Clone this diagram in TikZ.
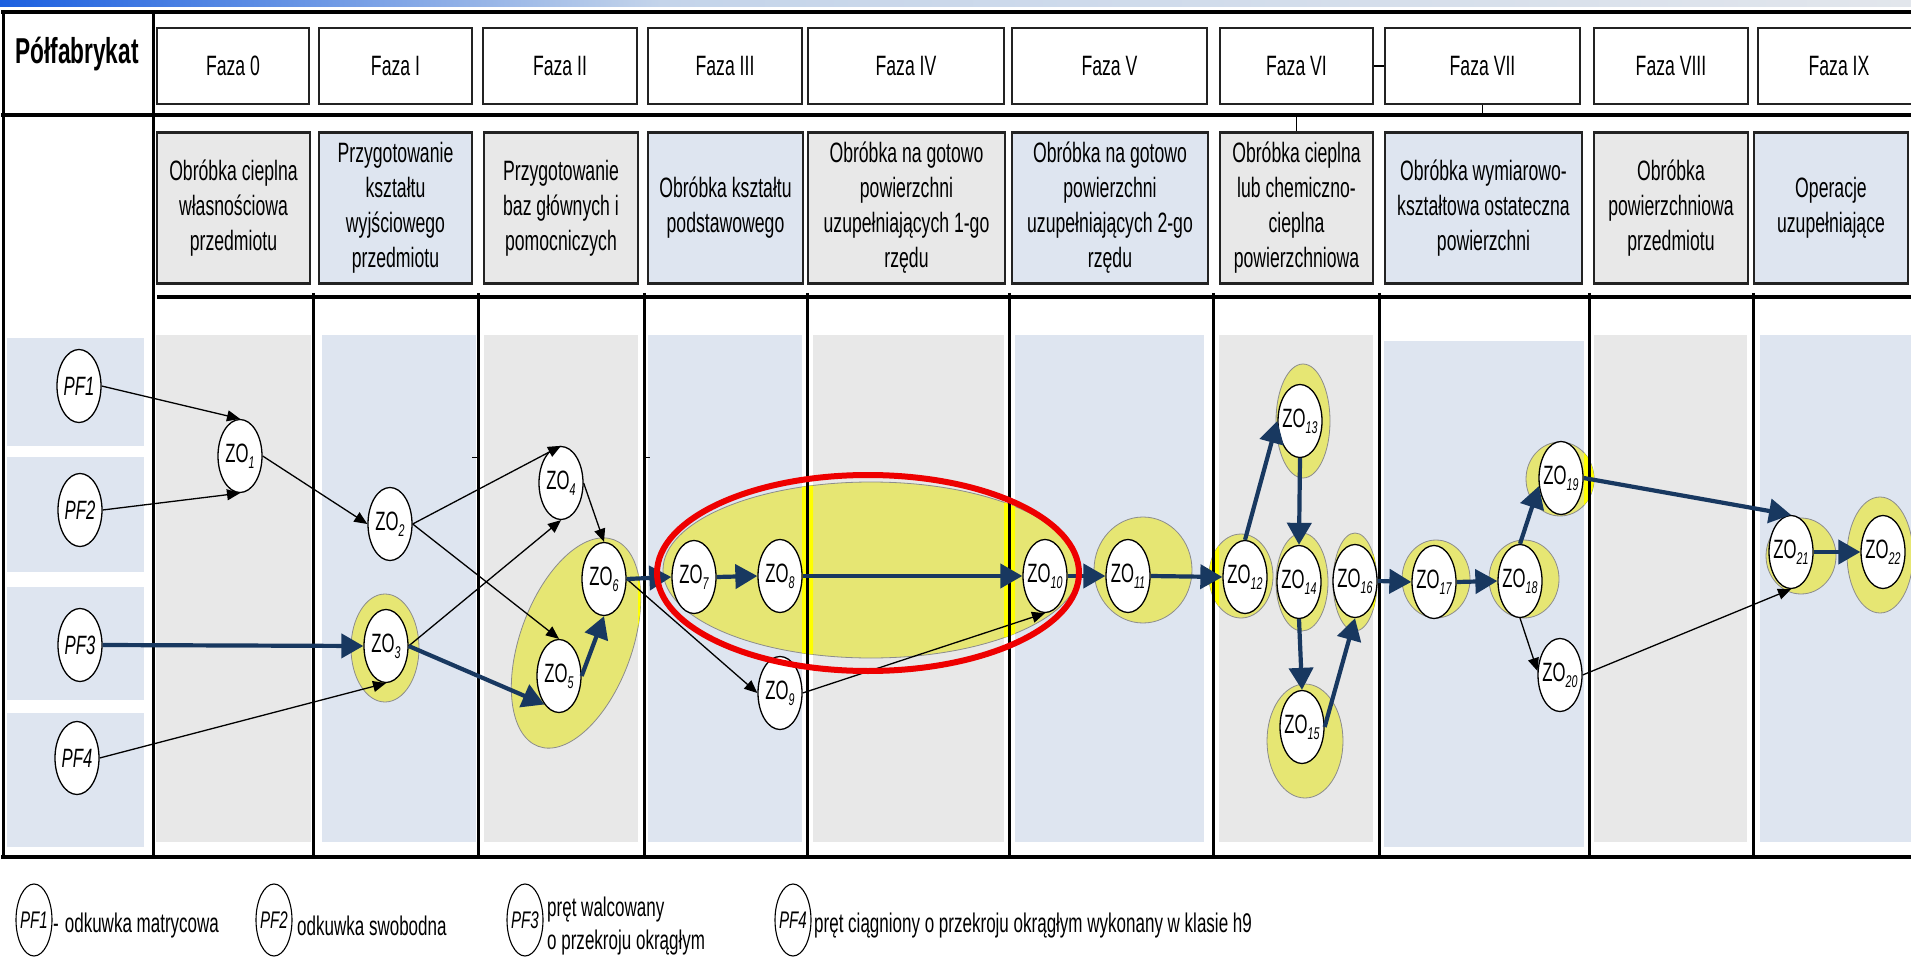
\documentclass[tikz,border=0pt]{standalone}
\usepackage{fontspec}
\newfontfamily\nf{Liberation Sans}[FakeStretch=0.63]
\usetikzlibrary{shapes.geometric,arrows.meta}
\definecolor{navy}{RGB}{24,56,96}
\definecolor{colgray}{RGB}{232,232,232}
\definecolor{colblue}{RGB}{222,229,240}
\definecolor{hl}{RGB}{230,230,115}
\definecolor{hlbright}{RGB}{255,255,0}
\definecolor{boxline}{RGB}{35,35,35}
\definecolor{ringred}{RGB}{238,0,0}
\definecolor{barblue}{RGB}{28,96,224}
\definecolor{barlight}{RGB}{196,212,234}
\definecolor{barpale}{RGB}{226,230,236}
\newcommand{\zon}[1]{\makebox[0pt]{ZO\raisebox{-6pt}{\fontsize{17}{17}\selectfont\itshape #1}}}
\newcommand{\pfn}[1]{\makebox[0pt]{\itshape PF#1}}
\begin{document}
\begin{tikzpicture}[x=1pt,y=1pt,
  hdr/.style={draw=boxline,line width=2.2pt,fill=white,minimum height=76pt,inner sep=0pt,
    font=\nf\fontsize{28}{34}\selectfont},
  desc/.style={draw=boxline,line width=2.2pt,minimum height=151pt,inner sep=0pt,align=center,
    font=\nf\fontsize{28}{35}\selectfont},
  zo/.style={ellipse,draw=black,line width=1.3pt,fill=white,minimum width=44pt,
    minimum height=73pt,inner sep=0pt,font=\nf\fontsize{26.5}{28}\selectfont},
  lg/.style={ellipse,draw=black,line width=1.1pt,fill=white,minimum width=36pt,
    minimum height=72pt,inner sep=0pt,font=\nf\fontsize{24}{26}\selectfont},
  lgtext/.style={anchor=west,inner sep=0pt,align=left,font=\nf\fontsize{27}{33}\selectfont},
  flow/.style={draw=black,line width=1.3pt,-{Triangle[length=13pt,width=11pt]}},
  mainflow/.style={draw=navy,line width=4.2pt,-{Triangle[length=22pt,width=24pt]}},
  hlzone/.style={fill=hl,draw=black!45,line width=0.8pt},
  hrule/.style={draw=black,line width=4.5pt},
  vrule/.style={draw=black,line width=3pt},
  conn/.style={draw=black,line width=1.2pt}
]
\useasboundingbox (0,0) rectangle (1911,-957);
\clip (0,0) rectangle (1911,-957);
\fill[white] (0,0) rectangle (1911,-957);

% title bar
\shade[left color=barblue,right color=barlight] (0,0) rectangle (660,-7);
\shade[left color=barlight,right color=barpale] (660,0) rectangle (1911,-7);

% semi-finished product column
\fill[colblue] (7,-338) rectangle (144,-446);
\fill[colblue] (7,-457) rectangle (144,-572);
\fill[colblue] (7,-587) rectangle (144,-700);
\fill[colblue] (7,-713) rectangle (144,-847);

% phase columns
\fill[colgray] (156,-335) rectangle (311,-842);
\fill[colblue] (322,-335) rectangle (476,-842);
\fill[colgray] (484,-335) rectangle (638,-842);
\fill[colblue] (648,-335) rectangle (802,-842);
\fill[colgray] (813,-335) rectangle (1004,-842);
\fill[colblue] (1015,-335) rectangle (1204,-842);
\fill[colgray] (1219,-335) rectangle (1373,-842);
\fill[colblue] (1384,-341) rectangle (1584,-847);
\fill[colgray] (1594,-335) rectangle (1747,-842);
\fill[colblue] (1760,-335) rectangle (1911,-842);

% highlighted operation groups
\path[hlzone] (385,-648) ellipse [x radius=34,y radius=54];
\path[hlzone,rotate around={70:(576,-643)}] (576,-643) ellipse [x radius=110,y radius=56];
\path[hlzone] (871,-570) ellipse [x radius=208,y radius=88];
\path[hlzone] (1143,-570) ellipse [x radius=49,y radius=53];
\path[hlzone] (1241,-576) ellipse [x radius=32,y radius=42];
\path[hlzone] (1303,-421) ellipse [x radius=27,y radius=57];
\path[hlzone] (1302,-582) ellipse [x radius=26,y radius=49];
\path[hlzone] (1305,-741) ellipse [x radius=38,y radius=57];
\path[hlzone] (1355,-582) ellipse [x radius=22,y radius=49];
\path[hlzone] (1436,-579) ellipse [x radius=34,y radius=39];
\path[hlzone] (1524,-579) ellipse [x radius=35,y radius=39];
\path[hlzone] (1560,-479) ellipse [x radius=34,y radius=37];
\path[hlzone] (1801,-556) ellipse [x radius=35,y radius=38];
\path[hlzone] (1880,-555) ellipse [x radius=33,y radius=58];

% groups seen through the gaps between columns
\begin{scope}
\clip (311,-297) rectangle (322,-857) (476,-297) rectangle (484,-857)
      (638,-297) rectangle (648,-857) (802,-297) rectangle (813,-857)
      (1004,-297) rectangle (1015,-857) (1204,-297) rectangle (1219,-857)
      (1373,-297) rectangle (1384,-857) (1584,-297) rectangle (1594,-857)
      (1747,-297) rectangle (1760,-857);
\fill[hlbright,rotate around={70:(576,-643)}] (576,-643) ellipse [x radius=110,y radius=56];
\fill[hlbright] (871,-570) ellipse [x radius=208,y radius=88];
\fill[hlbright] (1241,-576) ellipse [x radius=32,y radius=42];
\fill[hlbright] (1355,-582) ellipse [x radius=22,y radius=49];
\fill[hlbright] (1560,-479) ellipse [x radius=34,y radius=37];
\end{scope}

% table rules
\draw[hrule] (1,-12) -- (1911,-12);
\draw[hrule] (1,-115) -- (1911,-115);
\draw[hrule] (157,-297) -- (1911,-297);
\draw[hrule] (1,-857) -- (1911,-857);
\draw[vrule] (3,-12) -- (3,-857);
\draw[vrule] (153,-12) -- (153,-857);
\foreach \x in {313,478,644,807,1009,1213,1379,1589,1753}
  \draw[vrule] (\x,-293) -- (\x,-857);
\draw[line width=1pt] (472,-457) -- (477,-457);
\draw[line width=1pt] (645,-457) -- (650,-457);

% header
\node[font=\nf\bfseries\fontsize{36}{40}\selectfont,inner sep=0pt] (pfh) at (77,-54) {Półfabrykat};
\node[hdr,minimum width=152pt] (h0) at (233,-66) {Faza 0};
\node[hdr,minimum width=153pt] (h1) at (395.5,-66) {Faza I};
\node[hdr,minimum width=154pt] (h2) at (560,-66) {Faza II};
\node[hdr,minimum width=154pt] (h3) at (725,-66) {Faza III};
\node[hdr,minimum width=196pt] (h4) at (906,-66) {Faza IV};
\node[hdr,minimum width=195pt] (h5) at (1109.5,-66) {Faza V};
\node[hdr,minimum width=153pt] (h6) at (1296.5,-66) {Faza VI};
\node[hdr,minimum width=195pt] (h7) at (1482.5,-66) {Faza VII};
\node[hdr,minimum width=154pt] (h8) at (1671,-66) {Faza VIII};
\node[hdr,minimum width=162pt] (h9) at (1839,-66) {Faza IX};

\node[desc,fill=colgray,minimum width=153pt] (d0) at (233.5,-208) {Obróbka cieplna\\własnościowa\\przedmiotu};
\node[desc,fill=colblue,minimum width=153pt] (d1) at (395.5,-208) {Przygotowanie\\kształtu\\wyjściowego\\przedmiotu};
\node[desc,fill=colgray,minimum width=154pt] (d2) at (561,-208) {Przygotowanie\\baz głównych i\\pomocniczych};
\node[desc,fill=colblue,minimum width=155pt] (d3) at (725.5,-208) {Obróbka kształtu\\podstawowego};
\node[desc,fill=colgray,minimum width=197pt] (d4) at (906.5,-208) {Obróbka na gotowo\\powierzchni\\uzupełniających 1-go\\rzędu};
\node[desc,fill=colblue,minimum width=196pt] (d5) at (1110,-208) {Obróbka na gotowo\\powierzchni\\uzupełniających 2-go\\rzędu};
\node[desc,fill=colgray,minimum width=153pt] (d6) at (1296.5,-208) {Obróbka cieplna\\lub chemiczno-\\cieplna\\powierzchniowa};
\node[desc,fill=colblue,minimum width=197pt] (d7) at (1483.5,-208) {Obróbka wymiarowo-\\kształtowa ostateczna\\powierzchni};
\node[desc,fill=colgray,minimum width=154pt] (d8) at (1671,-208) {Obróbka\\powierzchniowa\\przedmiotu};
\node[desc,fill=colblue,minimum width=154pt] (d9) at (1831,-208) {Operacje\\uzupełniające};

\coordinate (t6) at (1296.5,-115);
\coordinate (t7) at (1482.5,-115);
\draw[conn] (h6.east) -- (h7.west);
\draw[conn] (h7.south) -- (t7);
\draw[conn] (t6) -- (d6.north);

% operations
\node[zo] (PF1) at (79,-386) {\pfn{1}};
\node[zo] (PF2) at (80,-510) {\pfn{2}};
\node[zo] (PF3) at (80,-645) {\pfn{3}};
\node[zo] (PF4) at (77,-758) {\pfn{4}};
\node[zo] (ZO1) at (240,-456) {\zon{1}};
\node[zo] (ZO2) at (390,-524) {\zon{2}};
\node[zo] (ZO3) at (386,-646) {\zon{3}};
\node[zo] (ZO4) at (561,-483) {\zon{4}};
\node[zo] (ZO5) at (559,-676) {\zon{5}};
\node[zo] (ZO6) at (604,-579) {\zon{6}};
\node[zo] (ZO7) at (694,-577) {\zon{7}};
\node[zo] (ZO8) at (780,-576) {\zon{8}};
\node[zo] (ZO9) at (780,-693) {\zon{9}};
\node[zo] (ZO10) at (1045,-576) {\zon{10}};
\node[zo] (ZO11) at (1128,-576) {\zon{11}};
\node[zo] (ZO12) at (1245,-577) {\zon{12}};
\node[zo] (ZO13) at (1300,-421) {\zon{13}};
\node[zo] (ZO14) at (1299,-582) {\zon{14}};
\node[zo] (ZO15) at (1302,-727) {\zon{15}};
\node[zo] (ZO16) at (1355,-581) {\zon{16}};
\node[zo] (ZO17) at (1434,-582) {\zon{17}};
\node[zo] (ZO18) at (1520,-581) {\zon{18}};
\node[zo] (ZO19) at (1561,-478) {\zon{19}};
\node[zo] (ZO20) at (1560,-675) {\zon{20}};
\node[zo] (ZO21) at (1791,-552) {\zon{21}};
\node[zo] (ZO22) at (1883,-552) {\zon{22}};

% secondary routes
\draw[flow] (PF1.east) -- (ZO1.north);
\draw[flow] (PF2.east) -- (ZO1.south);
\draw[flow] (PF4.east) -- (ZO3.south);
\draw[flow] (ZO1.east) -- (ZO2.west);
\draw[flow] (ZO2.east) -- (ZO4.north);
\draw[flow] (ZO2.east) -- (ZO5.north);
\draw[flow] (ZO3.east) -- (ZO4.south);
\draw[flow] (ZO4.east) -- (ZO6.north);
\draw[flow] (ZO6.east) -- (ZO9.west);
\draw[flow] (ZO9.east) -- (ZO10.south);
\draw[flow] (ZO18.south) -- (ZO20.170);
\draw[flow] (ZO20.east) -- (ZO21.south);

% main route
\draw[mainflow] (PF3.east) -- (ZO3.west);
\draw[mainflow] (ZO3.east) -- (ZO5.243);
\draw[mainflow] (ZO5.east) -- (ZO6.south);
\draw[mainflow] (ZO6.east) -- (ZO7.west);
\draw[mainflow] (ZO7.east) -- (ZO8.west);
\draw[mainflow] (ZO8.east) -- (ZO10.west);
\draw[mainflow] (ZO10.east) -- (ZO11.west);
\draw[mainflow] (ZO11.east) -- (ZO12.west);
\draw[mainflow] (ZO12.north) -- (ZO13.west);
\draw[mainflow] (ZO13.south) -- (ZO14.north);
\draw[mainflow] (ZO14.south) -- (ZO15.north);
\draw[mainflow] (ZO15.east) -- (ZO16.south);
\draw[mainflow] (ZO16.east) -- (ZO17.west);
\draw[mainflow] (ZO17.east) -- (ZO18.west);
\draw[mainflow] (ZO18.north) -- (ZO19.200);
\draw[mainflow] (ZO19.east) -- (ZO21.north);
\draw[mainflow] (ZO21.east) -- (ZO22.west);

% marked group
\draw[ringred,line width=6pt] (868,-573) ellipse [x radius=211,y radius=98];

% legend
\node[lg] (L1) at (34,-920) {\pfn{1}};
\node[lgtext] (T1) at (53,-926) {-\hspace{6pt}odkuwka matrycowa};
\node[lg] (L2) at (274,-920) {\pfn{2}};
\node[lgtext] (T2) at (297,-926) {odkuwka swobodna};
\node[lg] (L3) at (525,-920) {\pfn{3}};
\node[lgtext] (T3) at (547,-926) {pręt walcowany\\o przekroju okrągłym};
\node[lg] (L4) at (793,-920) {\pfn{4}};
\node[lgtext] (T4) at (814,-926) {pręt ciągniony o przekroju okrągłym wykonany w klasie h9};
\end{tikzpicture}
\end{document}
